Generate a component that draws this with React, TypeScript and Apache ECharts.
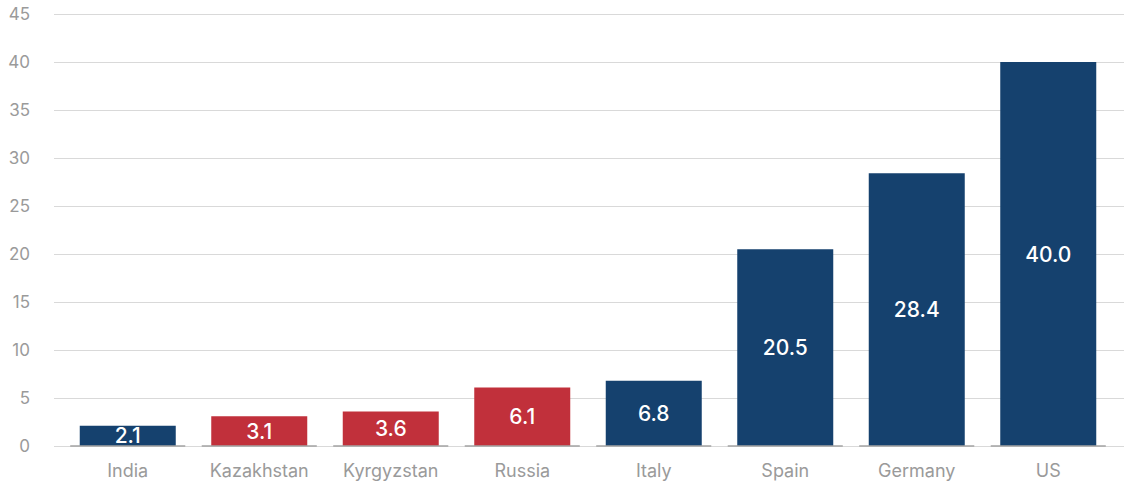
import React, { useEffect, useRef } from "react";
import * as echarts from "echarts";

const categories = ["India", "Kazakhstan", "Kyrgyzstan", "Russia", "Italy", "Spain", "Germany", "US"];
const values = [2.1, 3.1, 3.6, 6.1, 6.8, 20.5, 28.4, 40.0];
const highlight = [false, true, true, true, false, false, false, false];
const yTicks = { min: 0, max: 45, interval: 5 };

const NAVY = "#15416e";
const RED = "#c1303b";
const FONT = "Inter, 'Open Sans', sans-serif";

export default function App() {
  const ref = useRef<HTMLDivElement>(null);
  useEffect(() => {
    if (!ref.current) return;
    const chart = echarts.init(ref.current, undefined, { renderer: "svg" });
    chart.setOption({
      animation: false,
      grid: [
        { left: 54, right: 2, top: 14, height: 432 },
        { left: 62, right: 12, top: 14, height: 432 },
      ],
      xAxis: [
        { type: "category", gridIndex: 0, data: categories, show: false },
        {
          type: "category",
          gridIndex: 1,
          data: categories,
          axisLine: { show: false },
          axisTick: { show: false },
          axisLabel: { color: "#9a9a9a", fontSize: 18, fontFamily: FONT, margin: 15 },
        },
      ],
      yAxis: [
        {
          type: "value",
          gridIndex: 0,
          min: yTicks.min,
          max: yTicks.max,
          interval: yTicks.interval,
          axisLine: { show: false },
          axisTick: { show: false },
          axisLabel: { color: "#9a9a9a", fontSize: 17, fontFamily: FONT, margin: 24 },
          splitLine: { lineStyle: { color: "#d9d9d9", width: 1 } },
        },
        {
          type: "value",
          gridIndex: 1,
          min: yTicks.min,
          max: yTicks.max,
          interval: yTicks.interval,
          show: false,
          splitLine: { show: false },
        },
      ],
      series: [
        {
          type: "bar",
          xAxisIndex: 1,
          yAxisIndex: 1,
          barWidth: 96,
          data: values.map((v, i) => ({
            value: v,
            itemStyle: { color: highlight[i] ? RED : NAVY },
          })),
          label: {
            show: true,
            position: "inside",
            color: "#ffffff",
            fontSize: 21,
            fontWeight: 500,
            fontFamily: FONT,
            formatter: (p: any) => Number(p.value).toFixed(1),
          },
        },
        {
          type: "custom",
          xAxisIndex: 1,
          yAxisIndex: 1,
          data: categories.map((c) => [c, 0]),
          z: 5,
          renderItem: (params: any, api: any) => {
            const pt = api.coord([api.value(0), 0]);
            const w = api.size([1, 0])[0] * 0.875;
            return {
              type: "line",
              shape: { x1: pt[0] - w / 2, y1: pt[1], x2: pt[0] + w / 2, y2: pt[1] },
              style: { stroke: "#a3a3a3", lineWidth: 1.5 },
            };
          },
        },
      ],
    });
    return () => chart.dispose();
  }, []);
  return (
    <div
      ref={ref}
      style={{ position: "fixed", left: 0, top: 0, width: 1126, height: 483, background: "#fff" }}
    />
  );
}
